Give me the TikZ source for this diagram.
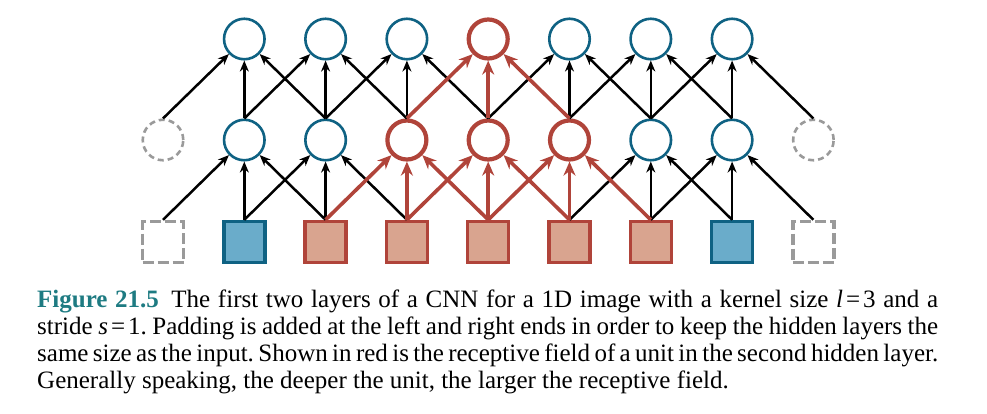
\documentclass[tikz,border=0pt]{standalone}
\usepackage{fontspec}
\setmainfont{Liberation Serif}
\usetikzlibrary{arrows.meta}
\definecolor{cblue}{HTML}{0F6283}
\definecolor{cbluefill}{HTML}{6AACCA}
\definecolor{cred}{HTML}{B0443A}
\definecolor{credfill}{HTML}{D9A48F}
\definecolor{cgray}{HTML}{9A9A9A}
\definecolor{figteal}{HTML}{1E7B82}
\newcommand{\capline}[2][901pt]{\makebox[#1][s]{#2}}
\begin{document}
\begin{tikzpicture}[x=1pt,y=-1pt,
  unit/.style={circle,draw=cblue,line width=2.6pt,minimum size=40.5pt,inner sep=0pt,fill=white},
  redunit/.style={circle,draw=cred,line width=4.2pt,minimum size=39pt,inner sep=0pt,fill=white},
  padunit/.style={circle,draw=cgray,line width=2.6pt,dash pattern=on 6pt off 4pt,minimum size=40.5pt,inner sep=0pt},
  inbox/.style={rectangle,draw=cblue,fill=cbluefill,line width=3.4pt,minimum size=41pt,inner sep=0pt},
  redbox/.style={rectangle,draw=cred,fill=credfill,line width=3.4pt,minimum size=41pt,inner sep=0pt},
  padbox/.style={rectangle,draw=cgray,line width=3.4pt,dash pattern=on 11pt off 4pt,minimum size=41pt,inner sep=0pt},
  edge/.style={black,line width=2.5pt,-{Stealth[length=11pt,width=9pt]}},
  rededge/.style={cred,line width=3.6pt,-{Stealth[length=14pt,width=12pt]}},
  caption/.style={anchor=north west,inner sep=0pt,align=left,font=\fontsize{25}{27}\selectfont\frenchspacing}
]
\useasboundingbox (0,0) rectangle (987,413);
% input row
\node[padbox] (s0) at (163,242) {};
\node[inbox] (s1) at (244.3,242) {};
\foreach \i in {2,...,6}{\node[redbox] (s\i) at ({163+81.3*\i},242) {};}
\node[inbox] (s7) at ({163+81.3*7},242) {};
\node[padbox] (s8) at ({163+81.3*8},242) {};
% hidden row 1
\node[padunit] (m0) at (163,140) {};
\foreach \i in {1,2,6,7}{\node[unit] (m\i) at ({163+81.3*\i},140) {};}
\foreach \i in {3,4,5}{\node[redunit] (m\i) at ({163+81.3*\i},140) {};}
\node[padunit] (m8) at ({163+81.3*8},140) {};
% hidden row 2
\foreach \i in {1,2,3,5,6,7}{\node[unit] (t\i) at ({163+81.3*\i},39) {};}
\node[redunit] (t4) at ({163+81.3*4},39) {};
% black connectors
\foreach \k in {1,2,6,7}{\foreach \d in {-1,0,1}{\pgfmathtruncatemacro\j{\k+\d}\draw[edge] (s\j.north) -- (m\k);}}
\foreach \k in {1,2,3,5,6,7}{\foreach \d in {-1,0,1}{\pgfmathtruncatemacro\j{\k+\d}\draw[edge] (m\j.north) -- (t\k);}}
% red connectors
\foreach \k in {3,4,5}{\foreach \d in {-1,0,1}{\pgfmathtruncatemacro\j{\k+\d}\draw[rededge] (s\j.north) -- (m\k);}}
\foreach \j in {3,4,5}{\draw[rededge] (m\j.north) -- (t4);}
% caption
\node[caption] (cap) at (37,289.5) {\capline{\textcolor{figteal}{\textbf{Figure 21.5}}\enspace The first two layers of a CNN for a 1D image with a kernel size \textit{l}\kern3pt=\kern3pt3 and a}\\
\capline{stride \textit{s}\kern3pt=\kern3pt1. Padding is added at the left and right ends in order to keep the hidden layers the}\\
\capline{same size as the input. Shown in red is the receptive field of a unit in the second hidden layer.}\\
Generally speaking, the deeper the unit, the larger the receptive field.};
\end{tikzpicture}
\end{document}
